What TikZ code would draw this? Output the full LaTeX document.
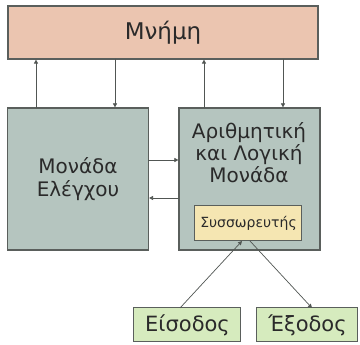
\documentclass[tikz,border=0pt]{standalone}
\usepackage{fontspec}
\setmainfont{DejaVu Sans}
\usetikzlibrary{arrows.meta}
\definecolor{mem}{HTML}{EBC5B0}
\definecolor{unit}{HTML}{B5C5BF}
\definecolor{acc}{HTML}{F5E6B2}
\definecolor{io}{HTML}{D6EBBE}
\definecolor{edge}{HTML}{5A5F5C}
\definecolor{txt}{HTML}{2A2A2A}
\begin{document}
\begin{tikzpicture}[x=1pt,y=-1pt,
  box/.style={draw=edge,line width=1.2pt,inner sep=0pt,text=txt,align=center},
  conn/.style={draw=edge!90!black,line width=0.7pt,-{Triangle[length=4pt,width=4pt]}}]
\useasboundingbox (0,0) rectangle (360,345);
\node[box,fill=mem,minimum width=310pt,minimum height=53pt,font=\fontsize{23}{26}\selectfont] (mem) at (163,32.5) {Μνήμη};
\node[box,fill=unit,minimum width=141pt,minimum height=142pt,font=\fontsize{20}{23}\selectfont] (cu) at (78,179) {Μονάδα\\Ελέγχου};
\node[box,fill=unit,minimum width=141pt,minimum height=142pt] (alu) at (249.5,179) {};
\node[text=txt,align=center,inner sep=0pt,font=\fontsize{20}{22}\selectfont] (alut) at (249,153) {Αριθμητική\\και Λογική\\Μονάδα};
\node[box,fill=acc,line width=1pt,minimum width=107pt,minimum height=35pt,font=\fontsize{14}{16}\selectfont] (acc) at (248.5,223.5) {Συσσωρευτής};
\node[box,fill=io,line width=1pt,minimum width=107pt,minimum height=34pt,font=\fontsize{21}{23}\selectfont] (in) at (187.5,325) {Είσοδος};
\node[box,fill=io,line width=1pt,minimum width=101pt,minimum height=34pt,font=\fontsize{21}{23}\selectfont] (out) at (307.5,325) {Έξοδος};
\draw[conn] (36,108) coordinate (a1) -- (a1 |- mem.south);
\draw[conn] (115,59) coordinate (a2) -- (a2 |- cu.north);
\draw[conn] (204,108) coordinate (a3) -- (a3 |- mem.south);
\draw[conn] (283,59) coordinate (a4) -- (a4 |- alu.north);
\draw[conn] (148.5,160) coordinate (b1) -- (b1 -| alu.west);
\draw[conn] (179,198) coordinate (b2) -- (b2 -| cu.east);
\draw[conn] (180,308) coordinate (c1) -- (242,241) coordinate (c2);
\draw[conn] (250,241) coordinate (c3) -- (312,308) coordinate (c4);
\end{tikzpicture}
\end{document}
